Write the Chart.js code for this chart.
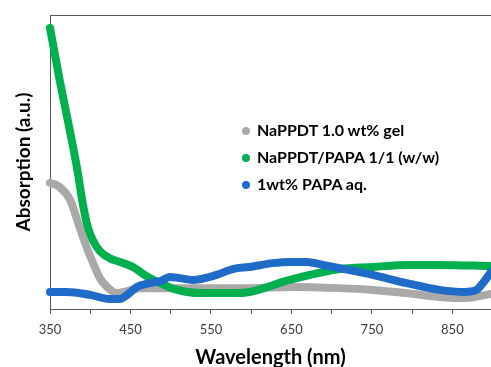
<!DOCTYPE html>
<html>
<head>
<meta charset="utf-8">
<script src="https://cdn.jsdelivr.net/npm/chart.js@4"></script>
<style>
  html, body { margin: 0; padding: 0; background: #fff; overflow: hidden; }
  #wrap { position: relative; width: 491px; height: 367px; }
  #legend { position: absolute; left: 242px; top: 119px; font-family: Lato, sans-serif; font-weight: bold; font-size: 16px; color: #000; }
  #legend div { height: 27px; line-height: 22px; white-space: nowrap; }
  #legend span.dot { display: inline-block; width: 8px; height: 8px; border-radius: 50%; margin-right: 7px; vertical-align: 1px; }
</style>
</head>
<body>
<div id="wrap">
  <canvas id="uvChart" width="491" height="367"></canvas>
  <div id="legend"></div>
</div>
<script>
// wavelength (nm) / absorption (a.u.)
const gelNm  = [350, 362, 375, 387, 396, 403, 412, 421, 433, 446, 462, 487, 536, 598, 648, 710, 751, 793, 834, 865, 898];
const gelAbs = [0.429, 0.415, 0.371, 0.276, 0.207, 0.160, 0.105, 0.075, 0.054, 0.061, 0.071, 0.071, 0.071, 0.071, 0.075, 0.071, 0.065, 0.054, 0.041, 0.037, 0.051];

const mixNm  = [350, 362, 375, 384, 391, 397, 403, 412, 424, 437, 453, 470, 487, 508, 536, 577, 598, 648, 710, 751, 793, 834, 898];
const mixAbs = [0.956, 0.779, 0.602, 0.473, 0.354, 0.279, 0.235, 0.197, 0.173, 0.160, 0.143, 0.112, 0.088, 0.065, 0.054, 0.054, 0.058, 0.099, 0.136, 0.143, 0.150, 0.150, 0.146];

const papaNm  = [350, 371, 400, 424, 437, 446, 458, 474, 487, 499, 511, 527, 557, 577, 598, 627, 648, 669, 689, 710, 751, 793, 834, 865, 880, 889, 898];
const papaAbs = [0.058, 0.058, 0.048, 0.034, 0.034, 0.048, 0.075, 0.088, 0.095, 0.109, 0.105, 0.099, 0.116, 0.136, 0.143, 0.156, 0.160, 0.160, 0.150, 0.139, 0.116, 0.088, 0.065, 0.058, 0.065, 0.092, 0.126];

const seriesNames = ['NaPPDT 1.0 wt% gel', 'NaPPDT/PAPA 1/1 (w/w)', '1wt% PAPA aq.'];
const seriesColors = ['#aba8a8', '#00b04f', '#1f6cc8'];

// every 50 nm gets a tick mark, every 100 nm a label
const tickNm = [350, 400, 450, 500, 550, 600, 650, 700, 750, 800, 850];
const tickLabels = ['350', '', '450', '', '550', '', '650', '', '750', '', '850'];

const toPoints = (xs, ys) => xs.map((x, i) => ({ x: x, y: ys[i] }));

const axisColor = '#595959';

const topLine = {
  id: 'topLine',
  afterDraw(chart) {
    const { ctx, chartArea } = chart;
    ctx.save();
    ctx.strokeStyle = axisColor;
    ctx.lineWidth = 1;
    ctx.beginPath();
    ctx.moveTo(chartArea.left, chartArea.top + 0.5);
    ctx.lineTo(chartArea.right, chartArea.top + 0.5);
    ctx.stroke();
    ctx.restore();
  }
};

const lineSet = (i, xs, ys, order) => ({
  label: seriesNames[i],
  data: toPoints(xs, ys),
  borderColor: seriesColors[i],
  backgroundColor: seriesColors[i],
  borderWidth: 8,
  borderCapStyle: 'round',
  borderJoinStyle: 'round',
  pointRadius: 0,
  cubicInterpolationMode: 'monotone',
  clip: false,
  order: order
});

new Chart(document.getElementById('uvChart').getContext('2d'), {
  type: 'line',
  data: {
    datasets: [
      lineSet(0, gelNm, gelAbs, 3),
      lineSet(1, mixNm, mixAbs, 2),
      lineSet(2, papaNm, papaAbs, 1)
    ]
  },
  options: {
    responsive: false,
    devicePixelRatio: 1,
    animation: false,
    layout: { padding: { top: 15, right: 0, left: 0, bottom: 0 } },
    plugins: { legend: { display: false }, tooltip: { enabled: false } },
    scales: {
      x: {
        type: 'linear',
        min: 350,
        max: 898,
        afterFit: (s) => { s.height = 58; },
        afterBuildTicks: (s) => { s.ticks = tickNm.map((v) => ({ value: v })); },
        border: { color: axisColor, width: 1 },
        grid: { display: true, drawOnChartArea: false, drawTicks: true, tickLength: 5, color: axisColor },
        ticks: {
          autoSkip: false,
          maxRotation: 0,
          padding: 8,
          color: '#404040',
          font: { family: 'Lato', size: 13 },
          callback: (v, i) => tickLabels[i]
        },
        title: {
          display: true,
          text: 'Wavelength (nm)',
          color: '#000',
          font: { family: 'Lato', size: 20, weight: 'bold' },
          padding: { top: 0, bottom: -3 }
        }
      },
      y: {
        min: 0,
        max: 1,
        afterFit: (s) => { s.width = 50; },
        border: { color: axisColor, width: 1 },
        grid: { display: false },
        ticks: { display: false },
        title: {
          display: true,
          text: 'Absorption (a.u.)',
          color: '#000',
          font: { family: 'Lato', size: 19, weight: 'bold' },
          padding: { top: 12, bottom: 0 }
        }
      }
    }
  },
  plugins: [topLine]
});

const legendEl = document.getElementById('legend');
seriesNames.forEach((name, i) => {
  const row = document.createElement('div');
  row.innerHTML = '<span class="dot" style="background:' + seriesColors[i] + '"></span>' + name;
  legendEl.appendChild(row);
});
</script>
</body>
</html>
